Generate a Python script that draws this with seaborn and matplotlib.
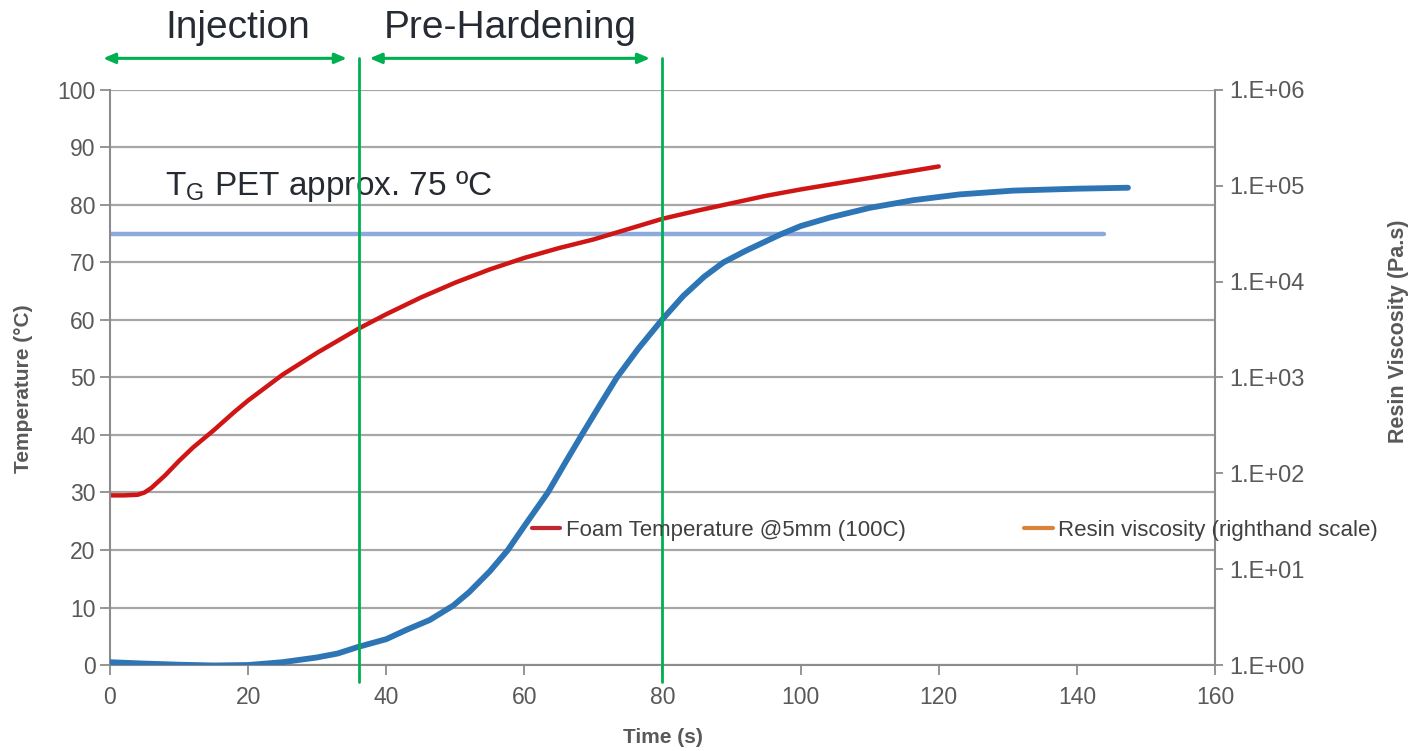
import matplotlib
matplotlib.use('Agg')
import matplotlib.pyplot as plt
import matplotlib.ticker as mticker
from matplotlib.lines import Line2D
import numpy as np
import pandas as pd
import seaborn as sns

# Foam temperature @5mm (left axis, degC)
temp_time = [0, 2, 4, 5, 6, 8, 10, 12, 15, 18, 20, 25, 30, 36, 40, 45, 50, 55, 60, 65, 70, 75,
             80, 85, 90, 95, 100, 105, 110, 115, 120]
temp_values = [29.5, 29.5, 29.6, 30.0, 30.8, 33.0, 35.5, 37.8, 40.8, 44.0, 46.0, 50.5, 54.3, 58.5,
               61.0, 63.9, 66.5, 68.8, 70.8, 72.5, 74.0, 75.8, 77.6, 79.0, 80.3, 81.6, 82.7, 83.7,
               84.7, 85.7, 86.7]

# Resin viscosity (right axis, Pa.s, log scale)
visc_time = [0, 5, 10, 15, 20, 25, 30, 33, 36, 40, 43, 46.3, 49.7, 52, 55, 57.6, 60, 63.4, 66,
             68.3, 71, 73.4, 76.5, 79.9, 83, 86, 88.8, 92, 97, 100, 104.3, 110, 116.3, 123,
             130.8, 140, 147.4]
visc_values = [1.07, 1.035, 1.007, 0.989, 1.0, 1.07, 1.20, 1.32, 1.55, 1.86, 2.34, 2.95, 4.17,
               5.75, 9.5, 15.8, 28.2, 63, 132, 251, 525, 1000, 2000, 3980, 7080, 11200, 15850,
               20900, 30900, 38000, 46800, 58900, 70800, 81300, 89100, 93300, 95500]

# Tg of PET reference line
tg_time = [0, 144]
tg_values = [75, 75]

# process phases
phase_bounds = [36, 80]
phase_names = ['Injection', 'Pre-Hardening']
phase_arrow_from = [-1, 37.6]
phase_arrow_to = [34.3, 78.2]
phase_text_x = [18.5, 57.9]

legend_labels = ['Foam Temperature @5mm (100C)', 'Resin viscosity (righthand scale)']

df_temp = pd.DataFrame({'time': temp_time, 'temp': temp_values})
df_visc = pd.DataFrame({'time': visc_time, 'visc': visc_values})
df_tg = pd.DataFrame({'time': tg_time, 'temp': tg_values})

sns.set_style('white')
plt.rcParams['font.family'] = ['Liberation Sans', 'DejaVu Sans']
plt.rcParams['mathtext.fontset'] = 'custom'
plt.rcParams['mathtext.rm'] = 'Liberation Sans'
plt.rcParams['mathtext.it'] = 'Liberation Sans'

grid_col = '#a6a6a6'
axis_col = '#8c8c8c'
tick_col = '#595959'
green = '#00b050'
dark = '#262b33'

fig = plt.figure(figsize=(14.21, 7.51), dpi=100)
ax = fig.add_axes([0.0774, 0.1145, 0.7776, 0.7657])

sns.lineplot(data=df_tg, x='time', y='temp', ax=ax, color='#8eaadb', lw=3.2, legend=False)
sns.lineplot(data=df_temp, x='time', y='temp', ax=ax, color='#d01515', lw=3.2, legend=False)

ax.set_xlim(0, 160)
ax.set_ylim(0, 100)
ax.set_xticks(range(0, 161, 20))
ax.set_yticks(range(0, 101, 10))
ax.yaxis.grid(True, color=grid_col, lw=1.6)
ax.set_axisbelow(True)
for s in ['top', 'right']:
    ax.spines[s].set_visible(False)
for s in ['left', 'bottom']:
    ax.spines[s].set_color(axis_col)
    ax.spines[s].set_linewidth(1.5)
ax.tick_params(axis='both', direction='out', length=7, width=1.3, color=axis_col,
               labelcolor=tick_col, labelsize=16.5, left=True, bottom=True)
ax.tick_params(axis='x', pad=8)
ax.set_xlabel('Time (s)', fontsize=15, fontweight='bold', color=tick_col)
ax.set_ylabel('Temperature (°C)', fontsize=15, fontweight='bold', color=tick_col)
ax.xaxis.set_label_coords(0.5, -0.11)
ax.yaxis.set_label_coords(-0.07, 0.48)

ax.text(8, 83.3, r'T$_{\mathrm{G}}$ PET approx. 75 ºC', fontsize=24, color=dark, va='center', ha='left')

# right axis: viscosity
ax2 = ax.twinx()
sns.lineplot(data=df_visc, x='time', y='visc', ax=ax2, color='#2e75b6', lw=4.2, legend=False)
ax2.set_xlabel('')
ax2.set_yscale('log')
ax2.set_ylim(1, 1e6)
ax2.set_xlim(0, 160)
ax2.yaxis.set_major_locator(mticker.LogLocator(base=10, numticks=10))
ax2.yaxis.set_minor_locator(mticker.NullLocator())
ax2.yaxis.set_major_formatter(mticker.FuncFormatter(lambda v, p: '1.E+%02d' % int(round(np.log10(v)))))
for s in ['top', 'left', 'bottom']:
    ax2.spines[s].set_visible(False)
ax2.spines['right'].set_color(axis_col)
ax2.spines['right'].set_linewidth(1.5)
ax2.tick_params(axis='y', direction='out', length=6, width=1.3, color=axis_col,
                labelcolor=tick_col, labelsize=17, right=True, pad=4)
ax2.set_ylabel('Resin Viscosity (Pa.s)', fontsize=15.5, fontweight='bold', color=tick_col)
ax2.yaxis.set_label_coords(1.157, 0.58)

# phase boundaries and arrows (drawn on top, in temperature coordinates)
for b in phase_bounds:
    ax2.plot([b, b], [-3, 105.6], transform=ax.transData, color=green, lw=2, clip_on=False)
for name, a0, a1, tx in zip(phase_names, phase_arrow_from, phase_arrow_to, phase_text_x):
    ax2.annotate('', xy=(a1, 105.5), xytext=(a0, 105.5), xycoords=ax.transData,
                 textcoords=ax.transData, annotation_clip=False,
                 arrowprops=dict(arrowstyle='<|-|>,head_length=0.7,head_width=0.3',
                                 color=green, lw=2.2, shrinkA=0, shrinkB=0))
    ax2.text(tx, 110.8, name, transform=ax.transData,
             fontsize=28, color=dark, ha='center', va='center', clip_on=False)

handles = [Line2D([0], [0], color='#c0282d', lw=3), Line2D([0], [0], color='#d8843a', lw=3)]
leg = fig.legend(handles, legend_labels, loc='center left', bbox_to_anchor=(0.36, 0.294),
                 ncol=2, frameon=False, fontsize=16, handlelength=1.3, handletextpad=0.25,
                 columnspacing=5.3)
for t in leg.get_texts():
    t.set_color('#404040')

fig.savefig('out.png', dpi=100)
